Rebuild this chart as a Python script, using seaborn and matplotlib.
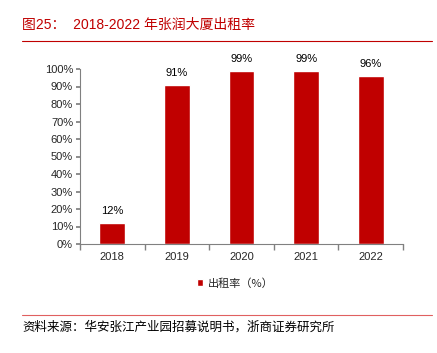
import matplotlib
matplotlib.use("Agg")
import matplotlib.pyplot as plt
import seaborn as sns
import pandas as pd
import numpy as np
from matplotlib.ticker import FixedLocator, PercentFormatter

years = ["2018", "2019", "2020", "2021", "2022"]
occupancy = [12, 91, 99, 99, 96]
yticks = list(range(0, 101, 10))

sns.set_theme(style="white")
plt.rcParams['font.family'] = ['Liberation Sans', 'Noto Sans CJK SC', 'DejaVu Sans']

RED = "#C00000"
df = pd.DataFrame({"year": years, "rate": occupancy})

fig = plt.figure(figsize=(4.37, 3.53), dpi=100)
ax = fig.add_axes([80/437, 109/353, 323/437, 175/353])
sns.barplot(data=df, x="year", y="rate", color=RED, width=0.4, ax=ax,
            saturation=1, label="出租率（%）")
ax.set_xlim(-0.5, len(years) - 0.5)
ax.set_ylim(0, 100)
ax.set_yticks(yticks)
ax.yaxis.set_major_formatter(PercentFormatter(decimals=0))
ax.set_xlabel("")
ax.set_ylabel("")
for s in ["top", "right"]:
    ax.spines[s].set_visible(False)
for s in ["left", "bottom"]:
    ax.spines[s].set_color("#808080")
    ax.spines[s].set_linewidth(0.8)
ax.tick_params(axis="y", which="major", length=3, color="#808080", labelsize=8, pad=2, left=True)
ax.tick_params(axis="x", which="major", length=0, labelsize=8, pad=6)
ax.xaxis.set_minor_locator(FixedLocator(np.arange(-0.5, len(years), 1.0)))
ax.tick_params(axis="x", which="minor", length=4, color="#808080", bottom=True)

for i, v in enumerate(occupancy):
    ax.text(i, v + 4, f"{v}%", ha="center", va="bottom", fontsize=8, color="#000000")

leg = ax.legend(loc="center", bbox_to_anchor=(0.48, -0.225), frameon=False,
                prop={"family": ["Noto Sans CJK SC", "DejaVu Sans"], "size": 8},
                handlelength=0.6, handleheight=0.6, handletextpad=0.4)

fig.text(22/437, 1 - 25/353, "图25：  2018-2022 年张润大厦出租率", color=RED,
         fontsize=10, va="center", ha="left")
fig.add_artist(plt.Line2D([22/437, 432/437], [1 - 41/353, 1 - 41/353], color=RED, lw=0.8))
fig.add_artist(plt.Line2D([22/437, 432/437], [1 - 315/353, 1 - 315/353], color="#E06060", lw=0.8))
fig.text(22/437, 1 - 327/353, "资料来源：华安张江产业园招募说明书，浙商证券研究所", color="#000000",
         fontsize=9, va="center", ha="left")

fig.savefig("out.png", dpi=100)
